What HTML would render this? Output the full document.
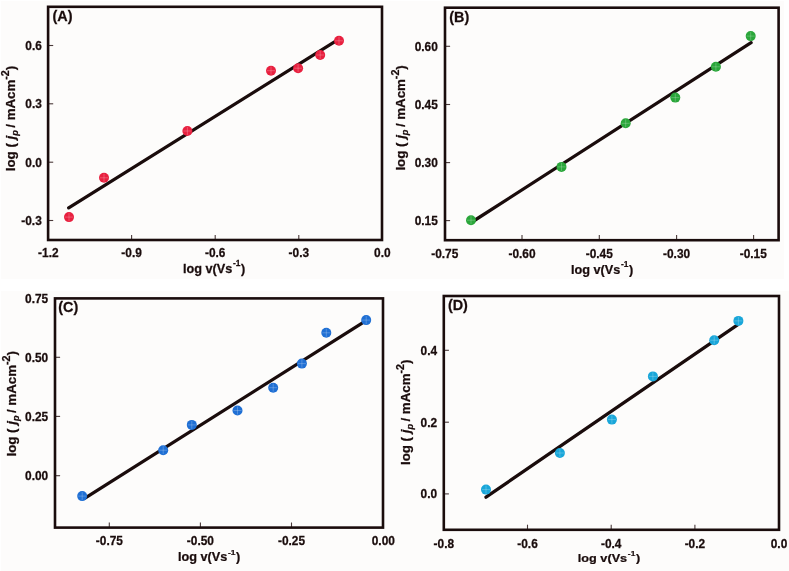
<!DOCTYPE html>
<html><head><meta charset="utf-8"><style>
html,body{margin:0;padding:0;background:#fff;}
svg{display:block;will-change:transform;}
text{font-family:"Liberation Sans", sans-serif;font-weight:bold;fill:#1a0c0c;stroke:#1a0c0c;stroke-width:0.25px;}
</style></head><body>
<svg width="789" height="571" viewBox="0 0 789 571">
<rect x="0" y="0" width="789" height="571" fill="#ffffff"/>
<rect x="1" y="1" width="783" height="278" fill="#fdfcfb"/>
<rect x="1" y="291" width="788" height="280" fill="#fdfcfb"/>

<line x1="131.6" y1="240.0" x2="131.6" y2="234.90" stroke="#4a3a3a" stroke-width="1.1"/>
<line x1="215.2" y1="240.0" x2="215.2" y2="234.90" stroke="#4a3a3a" stroke-width="1.1"/>
<line x1="298.8" y1="240.0" x2="298.8" y2="234.90" stroke="#4a3a3a" stroke-width="1.1"/>
<line x1="48.1" y1="45.5" x2="53.20" y2="45.5" stroke="#4a3a3a" stroke-width="1.1"/>
<line x1="48.1" y1="103.8" x2="53.20" y2="103.8" stroke="#4a3a3a" stroke-width="1.1"/>
<line x1="48.1" y1="162.2" x2="53.20" y2="162.2" stroke="#4a3a3a" stroke-width="1.1"/>
<line x1="48.1" y1="220.5" x2="53.20" y2="220.5" stroke="#4a3a3a" stroke-width="1.1"/>
<rect x="48.1" y="6.8" width="333.90" height="233.20" fill="none" stroke="#1a0c0c" stroke-width="2.6"/>
<text transform="translate(48.3,257.2) scale(1,1.05)" font-size="11.9" text-anchor="middle">-1.2</text>
<text transform="translate(131.6,257.2) scale(1,1.05)" font-size="11.9" text-anchor="middle">-0.9</text>
<text transform="translate(215.2,257.2) scale(1,1.05)" font-size="11.9" text-anchor="middle">-0.6</text>
<text transform="translate(298.8,257.2) scale(1,1.05)" font-size="11.9" text-anchor="middle">-0.3</text>
<text transform="translate(382.3,257.2) scale(1,1.05)" font-size="11.9" text-anchor="middle">0.0</text>
<text transform="translate(41.8,49.8) scale(1,1.05)" font-size="11.9" text-anchor="end">0.6</text>
<text transform="translate(41.8,108.1) scale(1,1.05)" font-size="11.9" text-anchor="end">0.3</text>
<text transform="translate(41.8,166.5) scale(1,1.05)" font-size="11.9" text-anchor="end">0.0</text>
<text transform="translate(41.8,224.8) scale(1,1.05)" font-size="11.9" text-anchor="end">-0.3</text>
<line x1="68.7" y1="207.8" x2="334.9" y2="41.6" stroke="#1a0c0c" stroke-width="3.3" stroke-linecap="round"/>
<circle cx="69.0" cy="217.1" r="5.0" fill="#e8203f"/>
<path d="M65.0 217.1H73.0M69.0 213.1V221.1" stroke="#fff" stroke-opacity="0.33" stroke-width="0.7"/>
<circle cx="104.0" cy="177.8" r="5.0" fill="#e8203f"/>
<path d="M100.0 177.8H108.0M104.0 173.8V181.8" stroke="#fff" stroke-opacity="0.33" stroke-width="0.7"/>
<circle cx="187.4" cy="131.0" r="5.0" fill="#e8203f"/>
<path d="M183.4 131.0H191.4M187.4 127.0V135.0" stroke="#fff" stroke-opacity="0.33" stroke-width="0.7"/>
<circle cx="271.0" cy="70.7" r="5.0" fill="#e8203f"/>
<path d="M267.0 70.7H275.0M271.0 66.7V74.7" stroke="#fff" stroke-opacity="0.33" stroke-width="0.7"/>
<circle cx="298.1" cy="68.2" r="5.0" fill="#e8203f"/>
<path d="M294.1 68.2H302.1M298.1 64.2V72.2" stroke="#fff" stroke-opacity="0.33" stroke-width="0.7"/>
<circle cx="320.2" cy="55.0" r="5.0" fill="#e8203f"/>
<path d="M316.2 55.0H324.2M320.2 51.0V59.0" stroke="#fff" stroke-opacity="0.33" stroke-width="0.7"/>
<circle cx="339.0" cy="40.8" r="5.0" fill="#e8203f"/>
<path d="M335.0 40.8H343.0M339.0 36.8V44.8" stroke="#fff" stroke-opacity="0.33" stroke-width="0.7"/>
<text transform="translate(52.5,20.6) scale(1,1.035)" font-size="14.4">(A)</text>
<text transform="translate(182.9,272.7) scale(1,1.02)" font-size="12.7">log v(Vs<tspan font-size="8.4" dx="0.7" dy="-6.4">-1</tspan><tspan dx="0.6" dy="6.4">)</tspan></text>
<text transform="translate(15.2,171.2) rotate(-90) scale(1.069,1)" font-size="12.44">log ( <tspan font-style="italic">j</tspan><tspan font-style="italic" font-size="8.5" dy="3.0">p </tspan><tspan dy="-3.0">/ mAcm</tspan><tspan font-size="10.0" dy="-6.2">-2</tspan><tspan dy="6.2">)</tspan></text>
<line x1="522.0" y1="240.2" x2="522.0" y2="235.10" stroke="#4a3a3a" stroke-width="1.1"/>
<line x1="599.3" y1="240.2" x2="599.3" y2="235.10" stroke="#4a3a3a" stroke-width="1.1"/>
<line x1="676.6" y1="240.2" x2="676.6" y2="235.10" stroke="#4a3a3a" stroke-width="1.1"/>
<line x1="753.6" y1="240.2" x2="753.6" y2="235.10" stroke="#4a3a3a" stroke-width="1.1"/>
<line x1="445.0" y1="46.3" x2="450.10" y2="46.3" stroke="#4a3a3a" stroke-width="1.1"/>
<line x1="445.0" y1="104.5" x2="450.10" y2="104.5" stroke="#4a3a3a" stroke-width="1.1"/>
<line x1="445.0" y1="162.6" x2="450.10" y2="162.6" stroke="#4a3a3a" stroke-width="1.1"/>
<line x1="445.0" y1="220.6" x2="450.10" y2="220.6" stroke="#4a3a3a" stroke-width="1.1"/>
<rect x="445.0" y="7.7" width="333.60" height="232.50" fill="none" stroke="#1a0c0c" stroke-width="2.6"/>
<text transform="translate(444.8,257.6) scale(1,1.05)" font-size="11.9" text-anchor="middle">-0.75</text>
<text transform="translate(522.0,257.6) scale(1,1.05)" font-size="11.9" text-anchor="middle">-0.60</text>
<text transform="translate(599.3,257.6) scale(1,1.05)" font-size="11.9" text-anchor="middle">-0.45</text>
<text transform="translate(676.6,257.6) scale(1,1.05)" font-size="11.9" text-anchor="middle">-0.30</text>
<text transform="translate(753.3,257.6) scale(1,1.05)" font-size="11.9" text-anchor="middle">-0.15</text>
<text transform="translate(437.8,50.6) scale(1,1.05)" font-size="11.9" text-anchor="end">0.60</text>
<text transform="translate(437.8,108.8) scale(1,1.05)" font-size="11.9" text-anchor="end">0.45</text>
<text transform="translate(437.8,166.9) scale(1,1.05)" font-size="11.9" text-anchor="end">0.30</text>
<text transform="translate(437.8,224.9) scale(1,1.05)" font-size="11.9" text-anchor="end">0.15</text>
<line x1="472.0" y1="222.0" x2="751.1" y2="42.7" stroke="#1a0c0c" stroke-width="3.3" stroke-linecap="round"/>
<circle cx="471.0" cy="220.2" r="5.0" fill="#2aa63a"/>
<path d="M467.0 220.2H475.0M471.0 216.2V224.2" stroke="#fff" stroke-opacity="0.33" stroke-width="0.7"/>
<circle cx="561.5" cy="166.9" r="5.0" fill="#2aa63a"/>
<path d="M557.5 166.9H565.5M561.5 162.9V170.9" stroke="#fff" stroke-opacity="0.33" stroke-width="0.7"/>
<circle cx="625.7" cy="123.3" r="5.0" fill="#2aa63a"/>
<path d="M621.7 123.3H629.7M625.7 119.3V127.3" stroke="#fff" stroke-opacity="0.33" stroke-width="0.7"/>
<circle cx="675.3" cy="97.6" r="5.0" fill="#2aa63a"/>
<path d="M671.3 97.6H679.3M675.3 93.6V101.6" stroke="#fff" stroke-opacity="0.33" stroke-width="0.7"/>
<circle cx="715.9" cy="66.8" r="5.0" fill="#2aa63a"/>
<path d="M711.9 66.8H719.9M715.9 62.8V70.8" stroke="#fff" stroke-opacity="0.33" stroke-width="0.7"/>
<circle cx="750.7" cy="36.1" r="5.0" fill="#2aa63a"/>
<path d="M746.7 36.1H754.7M750.7 32.1V40.1" stroke="#fff" stroke-opacity="0.33" stroke-width="0.7"/>
<text transform="translate(449.2,21.5) scale(1,1.035)" font-size="14.4">(B)</text>
<text transform="translate(570.9,273.6) scale(1,0.97)" font-size="12.7">log v(Vs<tspan font-size="8.4" dx="0.7" dy="-6.4">-1</tspan><tspan dx="0.6" dy="6.4">)</tspan></text>
<text transform="translate(405.2,170.6) rotate(-90) scale(1.069,1)" font-size="12.44">log ( <tspan font-style="italic">j</tspan><tspan font-style="italic" font-size="8.5" dy="3.0">p </tspan><tspan dy="-3.0">/ mAcm</tspan><tspan font-size="10.0" dy="-6.2">-2</tspan><tspan dy="6.2">)</tspan></text>
<line x1="109.3" y1="527.6" x2="109.3" y2="522.50" stroke="#4a3a3a" stroke-width="1.1"/>
<line x1="200.4" y1="527.6" x2="200.4" y2="522.50" stroke="#4a3a3a" stroke-width="1.1"/>
<line x1="291.5" y1="527.6" x2="291.5" y2="522.50" stroke="#4a3a3a" stroke-width="1.1"/>
<line x1="55.0" y1="357.3" x2="60.10" y2="357.3" stroke="#4a3a3a" stroke-width="1.1"/>
<line x1="55.0" y1="416.4" x2="60.10" y2="416.4" stroke="#4a3a3a" stroke-width="1.1"/>
<line x1="55.0" y1="475.7" x2="60.10" y2="475.7" stroke="#4a3a3a" stroke-width="1.1"/>
<rect x="55.0" y="298.4" width="328.00" height="229.20" fill="none" stroke="#1a0c0c" stroke-width="2.6"/>
<text transform="translate(109.4,545.0) scale(1,1.05)" font-size="11.9" text-anchor="middle">-0.75</text>
<text transform="translate(200.4,545.0) scale(1,1.05)" font-size="11.9" text-anchor="middle">-0.50</text>
<text transform="translate(291.5,545.0) scale(1,1.05)" font-size="11.9" text-anchor="middle">-0.25</text>
<text transform="translate(383.3,545.0) scale(1,1.05)" font-size="11.9" text-anchor="middle">0.00</text>
<text transform="translate(48.2,302.9) scale(1,1.05)" font-size="11.9" text-anchor="end">0.75</text>
<text transform="translate(48.2,361.6) scale(1,1.05)" font-size="11.9" text-anchor="end">0.50</text>
<text transform="translate(48.2,420.7) scale(1,1.05)" font-size="11.9" text-anchor="end">0.25</text>
<text transform="translate(48.2,480.0) scale(1,1.05)" font-size="11.9" text-anchor="end">0.00</text>
<line x1="85.0" y1="498.1" x2="364.5" y2="321.6" stroke="#1a0c0c" stroke-width="3.3" stroke-linecap="round"/>
<circle cx="82.2" cy="496.1" r="5.0" fill="#1f6fd4"/>
<path d="M78.2 496.1H86.2M82.2 492.1V500.1" stroke="#fff" stroke-opacity="0.33" stroke-width="0.7"/>
<circle cx="163.2" cy="450.2" r="5.0" fill="#1f6fd4"/>
<path d="M159.2 450.2H167.2M163.2 446.2V454.2" stroke="#fff" stroke-opacity="0.33" stroke-width="0.7"/>
<circle cx="191.8" cy="424.9" r="5.0" fill="#1f6fd4"/>
<path d="M187.8 424.9H195.8M191.8 420.9V428.9" stroke="#fff" stroke-opacity="0.33" stroke-width="0.7"/>
<circle cx="237.5" cy="410.5" r="5.0" fill="#1f6fd4"/>
<path d="M233.5 410.5H241.5M237.5 406.5V414.5" stroke="#fff" stroke-opacity="0.33" stroke-width="0.7"/>
<circle cx="273.2" cy="387.7" r="5.0" fill="#1f6fd4"/>
<path d="M269.2 387.7H277.2M273.2 383.7V391.7" stroke="#fff" stroke-opacity="0.33" stroke-width="0.7"/>
<circle cx="301.9" cy="363.6" r="5.0" fill="#1f6fd4"/>
<path d="M297.9 363.6H305.9M301.9 359.6V367.6" stroke="#fff" stroke-opacity="0.33" stroke-width="0.7"/>
<circle cx="326.3" cy="332.8" r="5.0" fill="#1f6fd4"/>
<path d="M322.3 332.8H330.3M326.3 328.8V336.8" stroke="#fff" stroke-opacity="0.33" stroke-width="0.7"/>
<circle cx="366.2" cy="320.1" r="5.0" fill="#1f6fd4"/>
<path d="M362.2 320.1H370.2M366.2 316.1V324.1" stroke="#fff" stroke-opacity="0.33" stroke-width="0.7"/>
<text transform="translate(58.3,312.0) scale(1,1.035)" font-size="14.4">(C)</text>
<text transform="translate(178.0,560.9) scale(1,0.94)" font-size="12.7">log v(Vs<tspan font-size="8.4" dx="0.7" dy="-6.4">-1</tspan><tspan dx="0.6" dy="6.4">)</tspan></text>
<text transform="translate(16.2,456.5) rotate(-90) scale(1.069,1)" font-size="12.44">log ( <tspan font-style="italic">j</tspan><tspan font-style="italic" font-size="8.5" dy="3.0">p </tspan><tspan dy="-3.0">/ mAcm</tspan><tspan font-size="10.0" dy="-6.2">-2</tspan><tspan dy="6.2">)</tspan></text>
<line x1="527.5" y1="529.8" x2="527.5" y2="524.70" stroke="#4a3a3a" stroke-width="1.1"/>
<line x1="611.2" y1="529.8" x2="611.2" y2="524.70" stroke="#4a3a3a" stroke-width="1.1"/>
<line x1="694.9" y1="529.8" x2="694.9" y2="524.70" stroke="#4a3a3a" stroke-width="1.1"/>
<line x1="443.8" y1="350.3" x2="448.90" y2="350.3" stroke="#4a3a3a" stroke-width="1.1"/>
<line x1="443.8" y1="422.2" x2="448.90" y2="422.2" stroke="#4a3a3a" stroke-width="1.1"/>
<line x1="443.8" y1="493.9" x2="448.90" y2="493.9" stroke="#4a3a3a" stroke-width="1.1"/>
<rect x="443.8" y="296.0" width="335.20" height="233.80" fill="none" stroke="#1a0c0c" stroke-width="2.6"/>
<text transform="translate(443.8,548.2) scale(1,1.05)" font-size="11.9" text-anchor="middle">-0.8</text>
<text transform="translate(527.5,548.2) scale(1,1.05)" font-size="11.9" text-anchor="middle">-0.6</text>
<text transform="translate(611.2,548.2) scale(1,1.05)" font-size="11.9" text-anchor="middle">-0.4</text>
<text transform="translate(694.9,548.2) scale(1,1.05)" font-size="11.9" text-anchor="middle">-0.2</text>
<text transform="translate(779.0,548.2) scale(1,1.05)" font-size="11.9" text-anchor="middle">0.0</text>
<text transform="translate(437.1,354.6) scale(1,1.05)" font-size="11.9" text-anchor="end">0.4</text>
<text transform="translate(437.1,426.5) scale(1,1.05)" font-size="11.9" text-anchor="end">0.2</text>
<text transform="translate(437.1,498.2) scale(1,1.05)" font-size="11.9" text-anchor="end">0.0</text>
<line x1="486.0" y1="497.2" x2="737.5" y2="324.8" stroke="#1a0c0c" stroke-width="3.3" stroke-linecap="round"/>
<circle cx="486.0" cy="489.6" r="5.0" fill="#19a6d9"/>
<path d="M482.0 489.6H490.0M486.0 485.6V493.6" stroke="#fff" stroke-opacity="0.33" stroke-width="0.7"/>
<circle cx="559.9" cy="453.0" r="5.0" fill="#19a6d9"/>
<path d="M555.9 453.0H563.9M559.9 449.0V457.0" stroke="#fff" stroke-opacity="0.33" stroke-width="0.7"/>
<circle cx="611.9" cy="419.6" r="5.0" fill="#19a6d9"/>
<path d="M607.9 419.6H615.9M611.9 415.6V423.6" stroke="#fff" stroke-opacity="0.33" stroke-width="0.7"/>
<circle cx="652.9" cy="376.4" r="5.0" fill="#19a6d9"/>
<path d="M648.9 376.4H656.9M652.9 372.4V380.4" stroke="#fff" stroke-opacity="0.33" stroke-width="0.7"/>
<circle cx="714.2" cy="340.2" r="5.0" fill="#19a6d9"/>
<path d="M710.2 340.2H718.2M714.2 336.2V344.2" stroke="#fff" stroke-opacity="0.33" stroke-width="0.7"/>
<circle cx="738.4" cy="320.9" r="5.0" fill="#19a6d9"/>
<path d="M734.4 320.9H742.4M738.4 316.9V324.9" stroke="#fff" stroke-opacity="0.33" stroke-width="0.7"/>
<text transform="translate(447.9,310.0) scale(1,1.035)" font-size="14.4">(D)</text>
<text transform="translate(577.8,562.3) scale(1,0.93)" font-size="12.7">log v(Vs<tspan font-size="8.4" dx="0.7" dy="-6.4">-1</tspan><tspan dx="0.6" dy="6.4">)</tspan></text>
<text transform="translate(410.0,465.0) rotate(-90) scale(1.069,1)" font-size="12.44">log ( <tspan font-style="italic">j</tspan><tspan font-style="italic" font-size="8.5" dy="3.0">p </tspan><tspan dy="-3.0">/ mAcm</tspan><tspan font-size="10.0" dy="-6.2">-2</tspan><tspan dy="6.2">)</tspan></text>
</svg>
</body></html>
